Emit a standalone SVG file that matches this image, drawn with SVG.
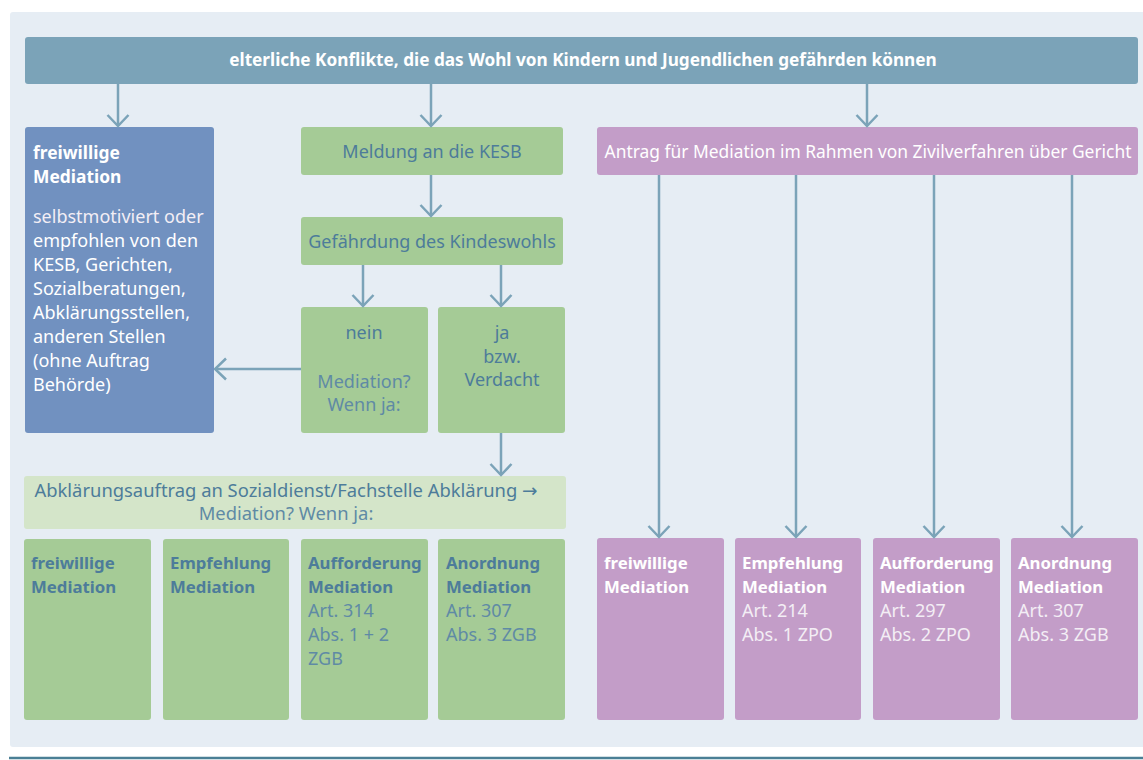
<svg xmlns="http://www.w3.org/2000/svg" width="1143" height="760" viewBox="0 0 1143 760">
<defs>
<marker id="ah" markerUnits="userSpaceOnUse" viewBox="0 0 14 24" refX="12.5" refY="12" markerWidth="14" markerHeight="24" orient="auto">
<path d="M1.5,1.5 L12.5,12 L1.5,22.5" fill="none" stroke="#7ba3b8" stroke-width="2.5"/>
</marker>
<style>
text{font-family:"Noto Sans","Open Sans","Liberation Sans",sans-serif;font-size:18px}
.w{fill:#ffffff}
.wl{fill:#f3eef5}
.g{fill:#4d7c9a}
.gl{fill:#5f8aa5}
.b{font-weight:bold;font-size:16.8px}
.c{text-anchor:middle}
.ar{font-family:"DejaVu Sans",sans-serif}
.con{fill:none;stroke:#7ba3b8;stroke-width:2.5;marker-end:url(#ah)}
.top{fill:#7ba3b8}
.blue{fill:#7191c0}
.green{fill:#a5cb96}
.lgreen{fill:#d4e5c9}
.purple{fill:#c39dc8}
</style>
</defs>
<rect x="0" y="0" width="1143" height="760" fill="#ffffff"/>
<rect x="10" y="12" width="1140" height="735" rx="3" fill="#e6edf4"/>
<line x1="9" y1="758" x2="1143" y2="758" stroke="#4a7f95" stroke-width="2.5"/>

<g id="n-top"><rect class="top" x="25" y="37" width="1113" height="47" rx="3"/><text class="w b c" x="583" y="66" style="font-size:17.2px">elterliche Konflikte, die das Wohl von Kindern und Jugendlichen gefährden können</text></g>

<g id="n-freiwillig-left"><rect class="blue" x="25" y="127" width="189" height="306" rx="3"/>
<text class="w" x="33"><tspan class="b" x="33" y="159" style="font-size:17.4px">freiwillige</tspan><tspan class="b" x="33" y="183" style="font-size:17.4px">Mediation</tspan><tspan x="33" y="223" class="wl">selbstmotiviert oder</tspan><tspan x="33" y="247">empfohlen von den</tspan><tspan x="33" y="271">KESB, Gerichten,</tspan><tspan x="33" y="295">Sozialberatungen,</tspan><tspan x="33" y="319">Abklärungsstellen,</tspan><tspan x="33" y="343">anderen Stellen</tspan><tspan x="33" y="367">(ohne Auftrag</tspan><tspan x="33" y="391">Behörde)</tspan></text></g>

<g id="n-meldung"><rect class="green" x="301" y="127" width="262" height="48" rx="3"/><text class="g c" x="432" y="158">Meldung an die KESB</text></g>
<g id="n-gefaehrdung"><rect class="green" x="301" y="217" width="262" height="48" rx="3"/><text class="g c" x="432" y="248">Gefährdung des Kindeswohls</text></g>
<g id="n-nein"><rect class="green" x="301" y="307" width="127" height="126" rx="3"/><text class="g c" x="364"><tspan x="364" y="339">nein</tspan><tspan class="gl" x="364" y="388">Mediation?</tspan><tspan class="gl" x="364" y="411">Wenn ja:</tspan></text></g>
<g id="n-ja"><rect class="green" x="438" y="307" width="127" height="126" rx="3"/><text class="g c" x="502"><tspan x="502" y="339">ja</tspan><tspan x="502" y="363">bzw.</tspan><tspan x="502" y="386">Verdacht</tspan></text></g>

<g id="n-abklaerung"><rect class="lgreen" x="24" y="476" width="542" height="53" rx="3"/><text class="g c" x="286" style="font-size:18.4px"><tspan x="286" y="497">Abklärungsauftrag an Sozialdienst/Fachstelle Abklärung <tspan class="ar">→</tspan></tspan><tspan class="gl" x="286" y="520">Mediation? Wenn ja:</tspan></text></g>

<g id="n-g1"><rect class="green" x="24" y="539" width="127" height="181" rx="3"/><text class="g b" x="31"><tspan x="31" y="569">freiwillige</tspan><tspan x="31" y="593">Mediation</tspan></text></g>
<g id="n-g2"><rect class="green" x="163" y="539" width="126" height="181" rx="3"/><text class="g b" x="170"><tspan x="170" y="569">Empfehlung</tspan><tspan x="170" y="593">Mediation</tspan></text></g>
<g id="n-g3"><rect class="green" x="301" y="539" width="127" height="181" rx="3"/><text class="g" x="308"><tspan class="b" x="308" y="569">Aufforderung</tspan><tspan class="b" x="308" y="593">Mediation</tspan><tspan class="gl" x="308" y="617">Art. 314</tspan><tspan class="gl" x="308" y="641">Abs. 1 + 2</tspan><tspan class="gl" x="308" y="665">ZGB</tspan></text></g>
<g id="n-g4"><rect class="green" x="438" y="539" width="127" height="181" rx="3"/><text class="g" x="446"><tspan class="b" x="446" y="569">Anordnung</tspan><tspan class="b" x="446" y="593">Mediation</tspan><tspan class="gl" x="446" y="617">Art. 307</tspan><tspan class="gl" x="446" y="641">Abs. 3 ZGB</tspan></text></g>

<g id="n-antrag"><rect class="purple" x="597" y="127" width="541" height="48" rx="3"/><text class="w c" x="868" y="158" style="font-size:17.4px">Antrag für Mediation im Rahmen von Zivilverfahren über Gericht</text></g>

<g id="n-p1"><rect class="purple" x="597" y="538" width="127" height="182" rx="3"/><text class="w b" x="604"><tspan x="604" y="569">freiwillige</tspan><tspan x="604" y="593">Mediation</tspan></text></g>
<g id="n-p2"><rect class="purple" x="735" y="538" width="126" height="182" rx="3"/><text class="w" x="742"><tspan class="b" x="742" y="569">Empfehlung</tspan><tspan class="b" x="742" y="593">Mediation</tspan><tspan class="wl" x="742" y="617">Art. 214</tspan><tspan class="wl" x="742" y="641">Abs. 1 ZPO</tspan></text></g>
<g id="n-p3"><rect class="purple" x="873" y="538" width="127" height="182" rx="3"/><text class="w" x="880"><tspan class="b" x="880" y="569">Aufforderung</tspan><tspan class="b" x="880" y="593">Mediation</tspan><tspan class="wl" x="880" y="617">Art. 297</tspan><tspan class="wl" x="880" y="641">Abs. 2 ZPO</tspan></text></g>
<g id="n-p4"><rect class="purple" x="1011" y="538" width="127" height="182" rx="3"/><text class="w" x="1018"><tspan class="b" x="1018" y="569">Anordnung</tspan><tspan class="b" x="1018" y="593">Mediation</tspan><tspan class="wl" x="1018" y="617">Art. 307</tspan><tspan class="wl" x="1018" y="641">Abs. 3 ZGB</tspan></text></g>

<g id="connectors">
<line class="con" x1="118" y1="84" x2="118" y2="126"/>
<line class="con" x1="431" y1="84" x2="431" y2="126"/>
<line class="con" x1="867" y1="84" x2="867" y2="126"/>
<line class="con" x1="431" y1="175" x2="431" y2="216"/>
<line class="con" x1="363" y1="265" x2="363" y2="306"/>
<line class="con" x1="501" y1="265" x2="501" y2="306"/>
<line class="con" x1="501" y1="433" x2="501" y2="475"/>
<line class="con" x1="301" y1="369" x2="215" y2="369"/>
<line class="con" x1="659" y1="175" x2="659" y2="537"/>
<line class="con" x1="796" y1="175" x2="796" y2="537"/>
<line class="con" x1="934" y1="175" x2="934" y2="537"/>
<line class="con" x1="1072" y1="175" x2="1072" y2="537"/>
</g>
</svg>
